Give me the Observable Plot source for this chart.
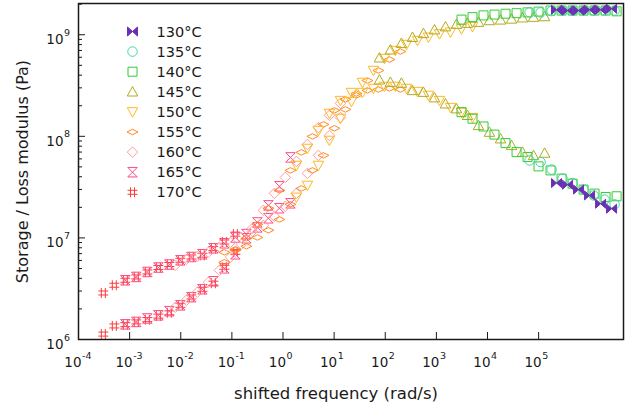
<!DOCTYPE html>
<html>
<head>
<meta charset="utf-8">
<script src="https://cdn.jsdelivr.net/npm/d3@7"></script>
<script src="https://cdn.jsdelivr.net/npm/@observablehq/plot@0.6"></script>
<style>
  html, body { margin: 0; padding: 0; background: #fff; }
  svg { display: block; }
</style>
</head>
<body>
<div id="chart"></div>
<script>
// ---------- data ----------
const temps = ["130°C", "135°C", "140°C", "145°C", "150°C", "155°C", "160°C", "165°C", "170°C"];
const colors = ["#6a2fb3", "#3fd8a2", "#33cc33", "#b0aa22", "#ffb820", "#ff8822", "#ff9c9c", "#ff4a88", "#ff3a3a"];

// shifted frequency (rad/s), storage modulus G' (Pa), loss modulus G'' (Pa)
const f130 = [2.24e5, 3.68e5, 6.04e5, 9.91e5, 1.63e6, 2.67e6];
const gp130 = [1.76e9, 1.73e9, 1.73e9, 1.76e9, 1.76e9, 1.80e9];
const gpp130 = [3.47e7, 3.34e7, 2.99e7, 2.62e7, 2.17e7, 1.94e7];

const f135 = [6.64e4, 1.09e5, 1.79e5, 2.94e5, 4.61e5, 7.57e5, 1.19e6, 1.95e6, 3.06e6];
const gp135 = [1.66e9, 1.66e9, 1.71e9, 1.73e9, 1.73e9, 1.73e9, 1.73e9, 1.73e9, 1.73e9];
const gpp135 = [5.79e7, 5.58e7, 4.70e7, 3.83e7, 3.47e7, 2.99e7, 2.62e7, 2.38e7, 2.14e7];

const f140 = [3.10e3, 5.09e3, 8.35e3, 1.37e4, 2.25e4, 3.70e4, 6.07e4, 9.95e4, 1.71e5, 2.81e5, 4.61e5, 7.57e5, 1.24e6, 2.04e6, 3.35e6];
const gp140 = [1.41e9, 1.49e9, 1.55e9, 1.58e9, 1.61e9, 1.63e9, 1.66e9, 1.69e9, 1.73e9, 1.73e9, 1.73e9, 1.73e9, 1.73e9, 1.73e9, 1.70e9];
const gpp140 = [1.73e8, 1.49e8, 1.25e8, 1.04e8, 8.58e7, 6.99e7, 6.25e7, 5.06e7, 4.62e7, 3.83e7, 3.42e7, 2.99e7, 2.73e7, 2.53e7, 2.57e7];

const f145 = [77.0, 126, 207, 341, 559, 918, 1507, 2473, 4060, 6668, 1.09e4, 1.80e4, 2.95e4, 4.84e4, 7.95e4, 1.31e5];
const gp145 = [5.93e8, 7.11e8, 8.25e8, 9.45e8, 1.03e9, 1.12e9, 1.20e9, 1.27e9, 1.30e9, 1.33e9, 1.38e9, 1.40e9, 1.43e9, 1.47e9, 1.49e9, 1.51e9];
const gpp145 = [3.60e8, 3.41e8, 3.34e8, 2.83e8, 2.72e8, 2.40e8, 2.09e8, 1.87e8, 1.61e8, 1.28e8, 1.10e8, 9.47e7, 8.14e7, 6.99e7, 6.49e7, 6.84e7];

const f150 = [1.83, 3.00, 4.93, 8.09, 13.3, 21.8, 35.8, 58.7, 96.5, 158, 260, 427, 700, 1150, 1888, 3098, 5089];
const gp150 = [5.17e7, 7.60e7, 1.14e8, 1.68e8, 2.25e8, 2.70e8, 3.39e8, 4.45e8, 5.83e8, 6.99e8, 8.01e8, 8.77e8, 9.45e8, 1.02e9, 1.06e9, 1.14e9, 1.20e9];
const gpp150 = [2.51e7, 3.29e7, 5.17e7, 9.11e7, 1.50e8, 2.20e8, 2.70e8, 2.96e8, 3.10e8, 3.10e8, 2.96e8, 2.76e8, 2.53e8, 2.25e8, 1.92e8, 1.72e8, 1.53e8];

const f155 = [7.13e-2, 0.117, 0.192, 0.315, 0.518, 0.850, 1.40, 2.29, 3.76, 6.18, 10.1, 16.6, 27.3, 44.8, 73.6, 121, 198];
const gp155 = [5.76e6, 7.55e6, 9.91e6, 1.36e7, 1.96e7, 2.94e7, 4.62e7, 6.95e7, 9.98e7, 1.31e8, 1.80e8, 2.31e8, 2.64e8, 3.54e8, 4.45e8, 5.70e8, 6.84e8];
const gpp155 = [7.22e6, 7.73e6, 8.27e6, 1.01e7, 1.19e7, 1.52e7, 2.14e7, 3.07e7, 4.62e7, 6.49e7, 1.20e8, 1.84e8, 2.53e8, 2.83e8, 2.89e8, 2.96e8, 2.89e8];

const f160 = [7.84e-3, 1.29e-2, 2.11e-2, 3.47e-2, 5.69e-2, 9.35e-2, 0.153, 0.252, 0.413, 0.679, 1.11, 1.83, 3.00, 4.93, 8.09, 13.3];
const gp160 = [2.08e6, 2.43e6, 2.92e6, 3.66e6, 4.80e6, 6.45e6, 8.65e6, 1.24e7, 1.87e7, 2.75e7, 3.94e7, 5.67e7, 8.32e7, 1.22e8, 1.61e8, 2.11e8];
const gpp160 = [5.38e6, 6.16e6, 6.60e6, 7.22e6, 8.08e6, 9.05e6, 1.01e7, 1.16e7, 1.33e7, 1.63e7, 2.05e7, 2.75e7, 4.32e7, 6.49e7, 1.02e8, 1.53e8];

const f165 = [8.24e-4, 1.35e-3, 2.22e-3, 3.65e-3, 5.98e-3, 9.82e-3, 1.61e-2, 2.65e-2, 4.35e-2, 7.13e-2, 0.117, 0.192, 0.315, 0.518, 0.850, 1.40];
const gp165 = [1.41e6, 1.49e6, 1.61e6, 1.73e6, 1.90e6, 2.17e6, 2.61e6, 3.12e6, 3.74e6, 5.02e6, 6.90e6, 9.91e6, 1.42e7, 2.09e7, 3.22e7, 6.20e7];
const gpp165 = [3.83e6, 4.13e6, 4.62e6, 5.11e6, 5.47e6, 6.02e6, 6.49e6, 6.90e6, 7.90e6, 8.85e6, 1.01e7, 1.09e7, 1.27e7, 1.56e7, 1.96e7, 2.19e7];

const f170 = [3.06e-4, 5.02e-4, 8.24e-4, 1.35e-3, 2.22e-3, 3.65e-3, 5.98e-3, 9.82e-3, 1.61e-2, 2.65e-2, 4.35e-2, 7.13e-2, 0.117];
const gp170 = [1.13e6, 1.36e6, 1.40e6, 1.49e6, 1.57e6, 1.70e6, 1.83e6, 2.17e6, 2.62e6, 3.12e6, 3.58e6, 5.14e6, 7.22e6];
const gpp170 = [2.87e6, 3.42e6, 3.83e6, 4.13e6, 4.62e6, 5.11e6, 5.47e6, 6.02e6, 6.49e6, 6.75e6, 7.85e6, 9.11e6, 1.09e7];

// tick values
const xMajor = [1e-4, 1e-3, 1e-2, 1e-1, 1e0, 1e1, 1e2, 1e3, 1e4, 1e5];
const yMajor = [1e6, 1e7, 1e8, 1e9];
const yMinor = [2e6,3e6,4e6,5e6,6e6,7e6,8e6,9e6, 2e7,3e7,4e7,5e7,6e7,7e7,8e7,9e7, 2e8,3e8,4e8,5e8,6e8,7e8,8e8,9e8, 2e9];

// ---------- symbols ----------
const R = s => Math.sqrt(s / Math.PI);
const symBowtie = {draw(c, s) { const r = R(s); c.moveTo(-r, -r * 0.9); c.lineTo(0, 0); c.lineTo(-r, r * 0.9); c.closePath(); c.moveTo(r, -r * 0.9); c.lineTo(0, 0); c.lineTo(r, r * 0.9); c.closePath(); }};
const symCircle = {draw(c, s) { const r = R(s) * 0.95; c.moveTo(r, 0); c.arc(0, 0, r, 0, 2 * Math.PI); }};
const symSquare = {draw(c, s) { const r = R(s) * 0.9; c.rect(-r, -r, 2 * r, 2 * r); }};
const symTriUp = {draw(c, s) { const r = R(s) * 1.05; c.moveTo(0, -r); c.lineTo(r, r * 0.8); c.lineTo(-r, r * 0.8); c.closePath(); }};
const symTriDown = {draw(c, s) { const r = R(s) * 1.05; c.moveTo(0, r); c.lineTo(r, -r * 0.8); c.lineTo(-r, -r * 0.8); c.closePath(); }};
const symLens = {draw(c, s) { const r = R(s); c.moveTo(-r * 1.1, 0); c.lineTo(0, -r * 0.55); c.lineTo(r * 1.1, 0); c.lineTo(0, r * 0.55); c.closePath(); }};
const symDiamond = {draw(c, s) { const r = R(s) * 1.05; c.moveTo(-r, 0); c.lineTo(0, -r); c.lineTo(r, 0); c.lineTo(0, r); c.closePath(); }};
const symHourglass = {draw(c, s) { const r = R(s) * 0.95; c.moveTo(-r, -r); c.lineTo(r, -r); c.lineTo(-r, r); c.lineTo(r, r); c.closePath(); }};
const symHash = {draw(c, s) { const r = R(s); const a = r * 0.4; c.moveTo(-a, -r); c.lineTo(-a, r); c.moveTo(a, -r); c.lineTo(a, r); c.moveTo(-r, -a); c.lineTo(r, -a); c.moveTo(-r, a); c.lineTo(r, a); }};

const symbols = [symBowtie, symCircle, symSquare, symTriUp, symTriDown, symLens, symDiamond, symHourglass, symHash];
const filled = [true, false, false, false, false, false, false, false, false];

const freqs = [f130, f135, f140, f145, f150, f155, f160, f165, f170];
const storage = [gp130, gp135, gp140, gp145, gp150, gp155, gp160, gp165, gp170];
const loss = [gpp130, gpp135, gpp140, gpp145, gpp150, gpp155, gpp160, gpp165, gpp170];

// ---------- marks ----------
const FONT = "DejaVu Sans";
const ink = "#1a1a1a";
const marks = [];

// data series (drawn from 170°C down to 130°C)
for (let k = temps.length - 1; k >= 0; --k) {
  const rows = [];
  freqs[k].forEach((f, i) => {
    rows.push({f, g: storage[k][i]});
    rows.push({f, g: loss[k][i]});
  });
  marks.push(Plot.dot(rows, {
    x: "f", y: "g", r: 5, symbol: symbols[k],
    stroke: colors[k], fill: filled[k] ? colors[k] : "none", strokeWidth: 1
  }));
}

// legend
temps.forEach((t, k) => {
  marks.push(Plot.dot([t], {frameAnchor: "top-left", dx: 54, dy: 28 + 20.1 * k, r: 5, symbol: symbols[k],
    stroke: colors[k], fill: filled[k] ? colors[k] : "none", strokeWidth: 1}));
  marks.push(Plot.text([t], {frameAnchor: "top-left", dx: 78, dy: 28.5 + 20.1 * k, text: d => d,
    textAnchor: "start", lineAnchor: "middle", fontSize: 14.5, fill: ink}));
});

// axes: inward ticks
marks.push(Plot.axisX({ticks: xMajor, tickSize: -7, tickFormat: () => "", label: null, stroke: ink}));
marks.push(Plot.axisY({ticks: yMajor, tickSize: -7, tickFormat: () => "", label: null, stroke: ink}));
marks.push(Plot.axisY({ticks: yMinor, tickSize: -4, tickFormat: () => "", label: null, stroke: ink}));

// tick labels 10^n
marks.push(Plot.text(xMajor, {x: d => d, frameAnchor: "bottom", text: () => "10", textAnchor: "end", lineAnchor: "middle", dx: 3, dy: 23, fontSize: 13.5, fill: ink}));
marks.push(Plot.text(xMajor, {x: d => d, frameAnchor: "bottom", text: d => String(Math.round(Math.log10(d))), textAnchor: "start", lineAnchor: "middle", dx: 3.5, dy: 16, fontSize: 9.5, fill: ink}));
marks.push(Plot.text(yMajor, {y: d => d, frameAnchor: "left", text: () => "10", textAnchor: "end", lineAnchor: "middle", dx: -15, dy: 5, fontSize: 13.5, fill: ink}));
marks.push(Plot.text(yMajor, {y: d => d, frameAnchor: "left", text: d => String(Math.round(Math.log10(d))), textAnchor: "start", lineAnchor: "middle", dx: -14.5, dy: -2, fontSize: 9.5, fill: ink}));

// axis titles
marks.push(Plot.text(["shifted frequency (rad/s)"], {frameAnchor: "bottom", text: d => d, textAnchor: "middle", lineAnchor: "middle", dx: -15, dy: 54, fontSize: 16.5, fill: ink}));
marks.push(Plot.text(["Storage / Loss modulus (Pa)"], {frameAnchor: "left", text: d => d, rotate: -90, textAnchor: "middle", lineAnchor: "middle", dx: -56, fontSize: 16, fill: ink}));

// frame
marks.push(Plot.frame({stroke: ink, strokeWidth: 1.5}));

const chart = Plot.plot({
  width: 626,
  height: 409,
  marginLeft: 78,
  marginRight: 3,
  marginTop: 3,
  marginBottom: 70,
  style: {fontFamily: FONT, background: "#fff", color: ink, overflow: "visible"},
  x: {type: "log", domain: [1e-4, 4.57e6]},
  y: {type: "log", domain: [1e6, 2.03e9]},
  marks
});
document.getElementById("chart").appendChild(chart);
</script>
</body>
</html>
